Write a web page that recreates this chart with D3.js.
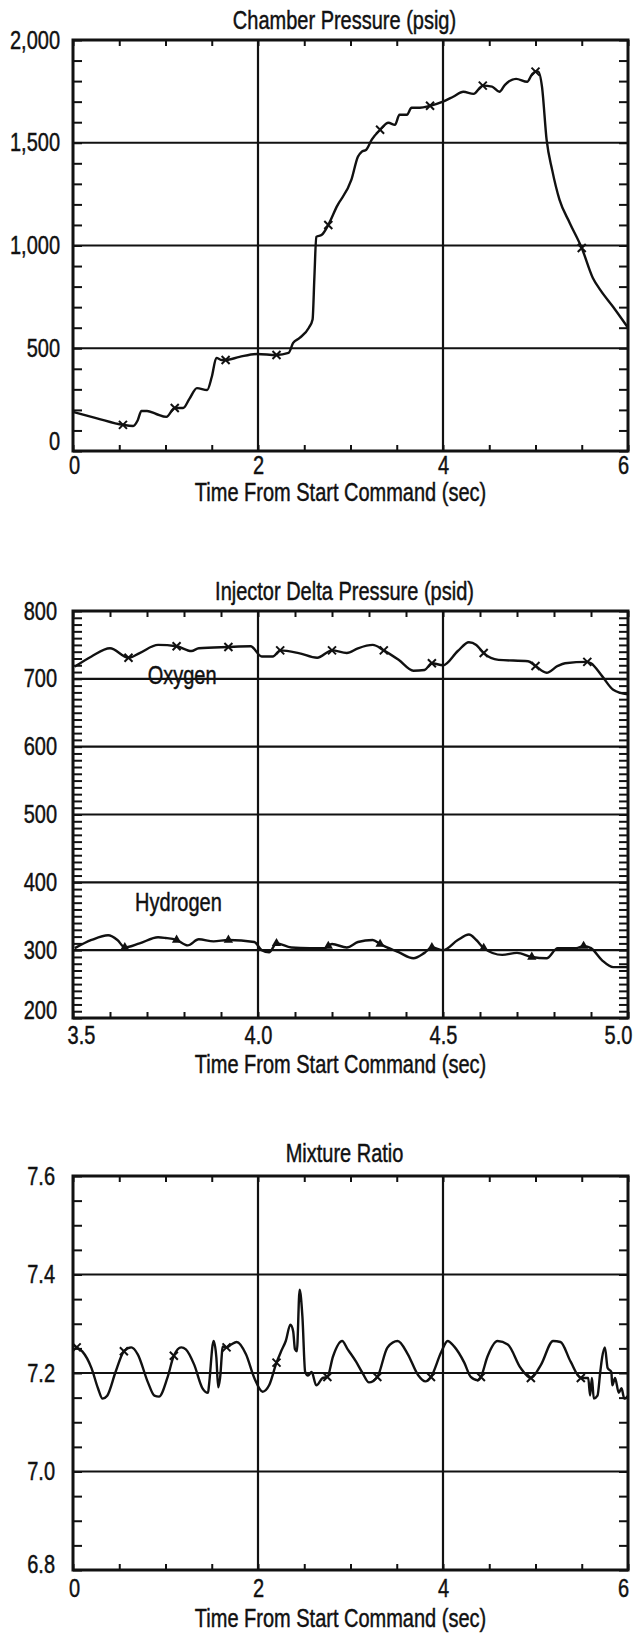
<!DOCTYPE html>
<html>
<head>
<meta charset="utf-8">
<script src="https://cdn.jsdelivr.net/npm/d3@7"></script>
<style>
  body { margin: 0; background: #fff; }
  text { font-family: "Liberation Sans", Arial, sans-serif; fill: #111; stroke: #111; stroke-width: 0.45; }
</style>
</head>
<body>
<script>
// chamber pressure (psig) vs time (sec)
var chamberTime = [0, 0.25, 0.54, 0.65, 0.70, 0.74, 0.80, 0.90, 1.01, 1.10, 1.19, 1.26, 1.34, 1.45, 1.50, 1.55, 1.61, 1.65, 1.80, 1.99,
  2.20, 2.33, 2.38, 2.45, 2.55, 2.59, 2.61, 2.63, 2.69, 2.76, 2.85, 3.01, 3.08, 3.12, 3.17, 3.23, 3.32, 3.41, 3.48, 3.53,
  3.61, 3.66, 3.75, 3.86, 4.00, 4.11, 4.22, 4.33, 4.43, 4.53, 4.61, 4.67, 4.79, 4.91, 4.96, 5.00, 5.03, 5.07, 5.12, 5.18,
  5.26, 5.37, 5.50, 5.62, 5.70, 5.84, 6.00];
var chamberPsig = [190, 160, 127, 122, 150, 195, 195, 180, 166, 209, 209, 255, 306, 297, 360, 453, 443, 443, 458, 472,
  467, 477, 526, 550, 600, 640, 850, 1042, 1052, 1100, 1188, 1320, 1432, 1456, 1466, 1515, 1563, 1597, 1587, 1636,
  1636, 1670, 1670, 1680, 1700, 1724, 1748, 1738, 1778, 1773, 1748, 1782, 1811, 1797, 1831, 1846, 1846, 1773, 1515, 1368,
  1222, 1110, 988, 842, 784, 701, 600];
var chamberMarks = [0.54, 1.10, 1.65, 2.20, 2.76, 3.32, 3.86, 4.43, 5.00, 5.50];

// injector delta pressure (psid)
var oxygenTime = [3.505, 3.55, 3.60, 3.65, 3.68, 3.73, 3.78, 3.82, 3.84, 3.92, 3.98, 4.01, 4.04, 4.06, 4.11, 4.16, 4.20, 4.24, 4.27, 4.31,
  4.34, 4.38, 4.42, 4.45, 4.47, 4.50, 4.54, 4.57, 4.59, 4.61, 4.65, 4.73, 4.75, 4.78, 4.81, 4.83, 4.89, 4.90, 4.93, 4.96, 5.00];
var oxygenPsid = [718, 733, 745, 731, 738, 750, 748, 741, 745, 747, 748, 733, 733, 742, 738, 731, 742, 738, 745, 750,
  742, 728, 712, 713, 723, 720, 741, 754, 750, 738, 728, 726, 719, 709, 719, 723, 725, 723, 704, 684, 677];
var oxygenMarks = [3.65, 3.78, 3.92, 4.06, 4.20, 4.34, 4.47, 4.61, 4.75, 4.89];

var hydrogenTime = [3.505, 3.55, 3.595, 3.62, 3.64, 3.68, 3.73, 3.75, 3.78, 3.81, 3.84, 3.88, 3.92, 3.99, 4.01, 4.03, 4.05, 4.09, 4.14, 4.18,
  4.20, 4.24, 4.27, 4.31, 4.33, 4.38, 4.42, 4.45, 4.47, 4.50, 4.54, 4.57, 4.59, 4.61, 4.66, 4.70, 4.74, 4.78, 4.81, 4.86,
  4.88, 4.90, 4.93, 4.96, 5.00];
var hydrogenPsid = [303, 315, 322, 315, 304, 310, 319, 318, 315, 307, 316, 313, 315, 312, 300, 297, 310, 304, 303, 303,
  309, 304, 312, 315, 309, 297, 288, 296, 304, 300, 315, 323, 315, 303, 293, 296, 290, 288, 303, 303,
  306, 303, 285, 275, 275];
var hydrogenMarks = [3.64, 3.78, 3.92, 4.05, 4.19, 4.33, 4.47, 4.61, 4.74, 4.88];

// mixture ratio
var mixTime = [0, 0.04, 0.10, 0.20, 0.27, 0.32, 0.37, 0.46, 0.55, 0.63, 0.70, 0.81, 0.88, 0.93, 1.02, 1.09, 1.17, 1.22, 1.31, 1.40,
  1.46, 1.47, 1.52, 1.55, 1.57, 1.59, 1.62, 1.66, 1.71, 1.77, 1.87, 1.96, 2.05, 2.12, 2.20, 2.25, 2.30, 2.35, 2.38, 2.40,
  2.42, 2.45, 2.48, 2.51, 2.54, 2.58, 2.63, 2.70, 2.75, 2.81, 2.91, 2.97, 3.06, 3.13, 3.20, 3.29, 3.40, 3.51, 3.62, 3.73,
  3.81, 3.87, 3.98, 4.05, 4.12, 4.23, 4.30, 4.38, 4.41, 4.48, 4.59, 4.70, 4.84, 4.95, 5.06, 5.19, 5.27, 5.38, 5.49, 5.57,
  5.59, 5.61, 5.63, 5.67, 5.70, 5.72, 5.75, 5.78, 5.82, 5.83, 5.86, 5.90, 5.93, 5.96, 6.00];
var mixRatio = [7.258, 7.252, 7.244, 7.210, 7.169, 7.148, 7.154, 7.202, 7.244, 7.252, 7.238, 7.181, 7.154, 7.152, 7.190, 7.235, 7.252, 7.248, 7.217, 7.169,
  7.160, 7.175, 7.265, 7.231, 7.171, 7.190, 7.254, 7.252, 7.258, 7.263, 7.238, 7.190, 7.162, 7.175, 7.221, 7.244, 7.265, 7.298, 7.285, 7.248,
  7.244, 7.369, 7.315, 7.202, 7.195, 7.202, 7.175, 7.190, 7.192, 7.233, 7.265, 7.248, 7.223, 7.200, 7.181, 7.192, 7.252, 7.265, 7.238, 7.196,
  7.183, 7.192, 7.242, 7.265, 7.254, 7.221, 7.192, 7.185, 7.192, 7.233, 7.265, 7.258, 7.210, 7.190, 7.217, 7.265, 7.263, 7.223, 7.190, 7.190,
  7.154, 7.190, 7.148, 7.154, 7.202, 7.231, 7.252, 7.210, 7.202, 7.175, 7.190, 7.160, 7.169, 7.148, 7.154];
var mixMarks = [0.04, 0.55, 1.09, 1.66, 2.20, 2.75, 3.29, 3.87, 4.41, 4.95, 5.49];

// tick labels
var timeLabels = [0, 2, 4, 6];
var deltaTimeLabels = [3.5, 4.0, 4.5, 5.0];
var chamberLabels = [0, 500, 1000, 1500, 2000];
var deltaLabels = [200, 300, 400, 500, 600, 700, 800];
var mixLabels = [6.8, 7.0, 7.2, 7.4, 7.6];

var svg_width = 635;
var svg_height = 1636;
var left = 73;
var right = 628;
var fontSize = 25;
var squeeze = 0.8;   // the original type is a condensed face

var svg = d3.select('body').append('svg')
  .attr('width', svg_width)
  .attr('height', svg_height);

function zip(t, v) {
  return t.map(function(d, i) { return {t: d, v: v[i]}; });
}

// value of a series at time t (for the little marks that sit on the curve)
function valueAt(series, t) {
  var i = d3.bisector(function(d) { return d.t; }).left(series, t);
  if (i <= 0) return series[0].v;
  if (i >= series.length) return series[series.length - 1].v;
  var a = series[i - 1], b = series[i];
  return a.v + (b.v - a.v) * (t - a.t) / (b.t - a.t);
}

function label(g, x, y, str) {
  return g.append('text')
    .attr('transform', 'translate(' + x + ',' + y + ') scale(' + squeeze + ',1)')
    .attr('text-anchor', 'middle')
    .attr('font-size', fontSize)
    .text(str);
}

function panel(cfg) {
  var x = d3.scaleLinear().domain(cfg.xDomain).range([left, right]);
  var y = d3.scaleLinear().domain(cfg.yDomain).range([cfg.bottom, cfg.top]);
  var g = svg.append('g');

  // grid
  g.selectAll('.hgrid').data(cfg.yGrid).enter().append('line')
    .attr('x1', left).attr('x2', right)
    .attr('y1', function(d) { return y(d); }).attr('y2', function(d) { return y(d); })
    .attr('stroke', '#111').attr('stroke-width', 2.2);
  g.selectAll('.vgrid').data(cfg.xGrid).enter().append('line')
    .attr('y1', cfg.top).attr('y2', cfg.bottom)
    .attr('x1', function(d) { return x(d); }).attr('x2', function(d) { return x(d); })
    .attr('stroke', '#111').attr('stroke-width', 2.2);

  // inward ticks on all four sides
  var minorY = d3.range(cfg.yDomain[0], cfg.yDomain[1] + cfg.yStep / 2, cfg.yStep);
  var minorX = d3.range(cfg.xDomain[0], cfg.xDomain[1] + cfg.xStep / 2, cfg.xStep);
  var tickAxes = [
    [d3.axisLeft(y).tickValues(minorY).tickSize(-9), 'translate(' + left + ',0)'],
    [d3.axisRight(y).tickValues(minorY).tickSize(-9), 'translate(' + right + ',0)'],
    [d3.axisBottom(x).tickValues(minorX).tickSize(-6), 'translate(0,' + cfg.bottom + ')'],
    [d3.axisTop(x).tickValues(minorX).tickSize(-6), 'translate(0,' + cfg.top + ')']
  ];
  tickAxes.forEach(function(a) {
    var ax = g.append('g').attr('transform', a[1]).call(a[0].tickFormat(''));
    ax.select('.domain').remove();
    ax.selectAll('line').attr('stroke', '#111').attr('stroke-width', 2);
  });

  // frame
  g.append('rect')
    .attr('x', left).attr('y', cfg.top)
    .attr('width', right - left).attr('height', cfg.bottom - cfg.top)
    .attr('fill', 'none').attr('stroke', '#111').attr('stroke-width', 3);

  // y labels
  var yl = g.append('g').attr('transform', 'translate(' + left + ',0)')
    .call(d3.axisLeft(y).tickValues(cfg.yLabels).tickSize(0).tickPadding(cfg.yPad / squeeze).tickFormat(cfg.yFormat));
  yl.select('.domain').remove();
  yl.selectAll('text').attr('font-size', fontSize).attr('fill', '#111').attr('font-family', null)
    .attr('transform', 'scale(' + squeeze + ',1)')
    .attr('dy', function(d, i) { return i === 0 ? cfg.lowDy : '0.32em'; });

  // x labels
  var xl = g.append('g').attr('transform', 'translate(0,' + cfg.bottom + ')')
    .call(d3.axisBottom(x).tickValues(cfg.xLabels).tickSize(0).tickPadding(cfg.xPad).tickFormat(cfg.xFormat));
  xl.select('.domain').remove();
  var n = cfg.xLabels.length;
  xl.selectAll('text').attr('font-size', fontSize).attr('fill', '#111').attr('font-family', null)
    .attr('transform', 'scale(' + squeeze + ',1)')
    .attr('dx', function(d, i) { return (i === 0 ? cfg.edgeShift[0] : (i === n - 1 ? cfg.edgeShift[1] : 0)) / squeeze; });

  // titles
  label(g, (left + right) / 2 - 6, cfg.top - cfg.titleGap, cfg.title);
  label(g, (left + right) / 2 - 10, cfg.bottom + cfg.xTitleGap, 'Time From Start Command (sec)');

  var line = d3.line()
    .x(function(d) { return x(d.t); })
    .y(function(d) { return y(d.v); })
    .curve(d3.curveMonotoneX);

  cfg.series.forEach(function(s) {
    var data = zip(s.t, s.v);
    g.append('path').datum(data)
      .attr('d', line)
      .attr('fill', 'none').attr('stroke', '#111').attr('stroke-width', 2.4)
      .attr('stroke-linejoin', 'round');
    var mk = g.selectAll(null).data(s.marks).enter().append('path')
      .attr('transform', function(t) { return 'translate(' + x(t) + ',' + y(valueAt(data, t)) + ')'; });
    if (s.mark === 'tri') {
      mk.attr('d', d3.symbol(d3.symbolTriangle, 38)).attr('fill', '#111');
    } else {
      mk.attr('d', 'M-4,-4L4,4M-4,4L4,-4').attr('stroke', '#111').attr('stroke-width', 2).attr('fill', 'none');
    }
  });

  (cfg.notes || []).forEach(function(nt) {
    label(g, x(nt.t), y(nt.v), nt.text);
  });
}

panel({
  title: 'Chamber Pressure (psig)',
  top: 40, bottom: 451,
  xDomain: [0, 6], yDomain: [0, 2000],
  xStep: 0.5, yStep: 100,
  xGrid: [2, 4], yGrid: [500, 1000, 1500],
  xLabels: timeLabels, yLabels: chamberLabels,
  xFormat: d3.format('d'), yFormat: d3.format(','),
  yPad: 13, xPad: 5, lowDy: '-0.05em', edgeShift: [1, -5],
  titleGap: 11, xTitleGap: 50,
  series: [{t: chamberTime, v: chamberPsig, marks: chamberMarks, mark: 'x'}]
});

panel({
  title: 'Injector Delta Pressure (psid)',
  top: 611, bottom: 1018,
  xDomain: [3.5, 5], yDomain: [200, 800],
  xStep: 0.1, yStep: 10,
  xGrid: [4.0, 4.5], yGrid: [300, 400, 500, 600, 700],
  xLabels: deltaTimeLabels, yLabels: deltaLabels,
  xFormat: d3.format('.1f'), yFormat: d3.format('d'),
  yPad: 16, xPad: 8, lowDy: '0em', edgeShift: [8, -10],
  titleGap: 11, xTitleGap: 55,
  series: [
    {t: oxygenTime, v: oxygenPsid, marks: oxygenMarks, mark: 'x'},
    {t: hydrogenTime, v: hydrogenPsid, marks: hydrogenMarks, mark: 'tri'}
  ],
  notes: [{t: 3.795, v: 692, text: 'Oxygen'}, {t: 3.785, v: 358, text: 'Hydrogen'}]
});

panel({
  title: 'Mixture Ratio',
  top: 1176, bottom: 1570,
  xDomain: [0, 6], yDomain: [6.8, 7.6],
  xStep: 0.5, yStep: 0.05,
  xGrid: [2, 4], yGrid: [7.0, 7.2, 7.4],
  xLabels: timeLabels, yLabels: mixLabels,
  xFormat: d3.format('d'), yFormat: d3.format('.1f'),
  yPad: 18, xPad: 9, lowDy: '0.1em', edgeShift: [1, -5],
  titleGap: 14, xTitleGap: 57,
  series: [{t: mixTime, v: mixRatio, marks: mixMarks, mark: 'x'}]
});
</script>
</body>
</html>
